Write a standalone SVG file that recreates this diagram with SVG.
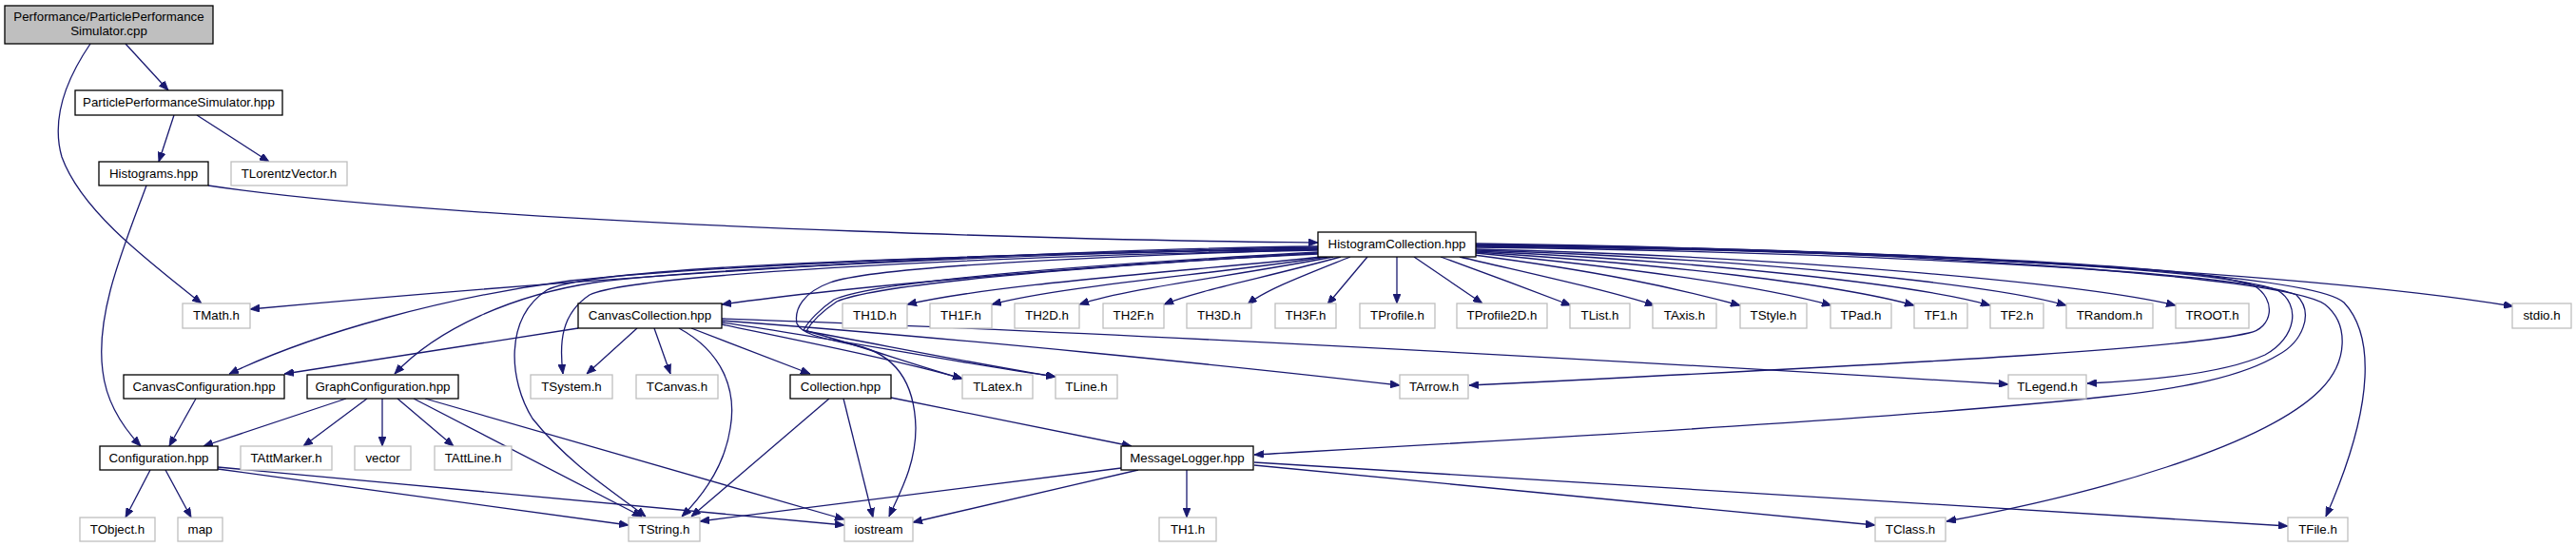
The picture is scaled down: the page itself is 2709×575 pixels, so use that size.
<svg xmlns="http://www.w3.org/2000/svg" width="2709" height="575" viewBox="0 0 2709 575">
<style>
.b{fill:#fff;stroke:#000;stroke-width:1.3}
.g{fill:#fff;stroke:#bfbfbf;stroke-width:1.3}
.r{fill:#bfbfbf;stroke:#000;stroke-width:1.3}
text{font-family:"Liberation Sans",Arial,Helvetica,sans-serif;font-size:13.3px;text-anchor:middle;fill:#000}
.e path{fill:none;stroke:#191970;stroke-width:1.3;marker-end:url(#a)}
</style>
<defs>
<marker id="a" viewBox="0 0 10 8" refX="10" refY="4" markerWidth="10" markerHeight="8" markerUnits="userSpaceOnUse" orient="auto">
<path d="M0,0 L10,4 L0,8 z" fill="#191970" stroke="#191970" stroke-width="0.8"/>
</marker>
</defs>
<rect width="2709" height="575" fill="#fff"/>
<g class="e" id="edges">
<path d="M132,46 L177,95"/>
<path d="M95,46 C65,90 55,130 65,165 C85,220 150,270 212,319"/>
<path d="M183,121 L167,170"/>
<path d="M207,121 L283,170"/>
<path d="M219,195 C350,215 600,232 900,243 S1300,254 1386,255"/>
<path d="M154,195 C130,260 100,330 108,390 C112,425 130,450 148,469"/>
<path d="M1386,259 C1100,262 700,285 263,325"/>
<path d="M1386,260 C1100,265 760,278 600,295 C470,312 330,350 241,393"/>
<path d="M1386,261 C1100,266 740,282 625,297 C540,310 460,345 415,393"/>
<path d="M1386,262 C1000,268 620,280 575,305 C530,335 535,400 560,440 C600,490 650,520 679,543"/>
<path d="M1386,263 C1000,270 660,290 620,310 C590,330 588,360 592,393"/>
<path d="M1386,262 C1150,270 920,280 873,297 C845,307 835,325 838,340 C842,350 860,355 900,363 C940,372 962,400 963,450 C963,490 945,520 935,543"/>
<path d="M1386,265 C1150,278 920,295 877,315 C862,325 850,338 845,347 C900,362 960,383 1012,398"/>
<path d="M1386,266 C1150,280 925,297 880,317 C865,327 853,339 848,348 C940,365 1040,385 1110,396"/>
<path d="M1386,267 C1200,275 900,300 759,320"/>
<path d="M1390,270 C1250,285 1050,298 954,320"/>
<path d="M1396,270 C1280,288 1120,300 1043,320"/>
<path d="M1402,270 C1300,290 1190,302 1135,320"/>
<path d="M1410,270 C1330,292 1260,305 1224,320"/>
<path d="M1420,270 C1370,290 1330,305 1312,320"/>
<path d="M1438,270 L1396,320"/>
<path d="M1469,270 L1469,319"/>
<path d="M1487,270 L1559,319"/>
<path d="M1515,270 C1570,290 1610,305 1652,321"/>
<path d="M1535,270 C1620,290 1690,305 1740,321"/>
<path d="M1550,268 C1680,285 1760,302 1830,321"/>
<path d="M1552,266 C1700,280 1850,300 1926,321"/>
<path d="M1552,265 C1750,278 1930,298 2013,321"/>
<path d="M1552,264 C1800,275 2020,300 2093,321"/>
<path d="M1552,263 C1850,272 2100,300 2173,321"/>
<path d="M1552,262 C1900,270 2200,300 2288,321"/>
<path d="M1552,256 C2000,262 2450,290 2643,322"/>
<path d="M1552,258 C1900,262 2300,275 2370,300 C2395,315 2390,345 2365,350 C2300,365 2100,378 1545,405"/>
<path d="M1552,259 C1950,263 2330,280 2395,305 C2420,320 2415,355 2382,373 C2340,392 2260,400 2195,403"/>
<path d="M1552,260 C1950,265 2350,285 2415,310 C2435,330 2420,360 2396,373 C2360,395 2300,408 2214,417 C2000,440 1600,462 1319,478"/>
<path d="M1552,258 C2000,262 2400,290 2445,320 C2470,340 2470,380 2440,410 C2380,470 2200,520 2047,548"/>
<path d="M1552,257 C2000,262 2430,285 2465,318 C2495,350 2500,420 2446,543"/>
<path d="M608,345 L299,393"/>
<path d="M670,345 L617,393"/>
<path d="M688,345 L705,393"/>
<path d="M727,345 L852,393"/>
<path d="M714,345 C760,370 775,410 768,450 C762,490 740,520 717,543"/>
<path d="M759,341 C850,360 950,380 1012,398"/>
<path d="M759,339 C870,355 1000,380 1110,396"/>
<path d="M759,337 C1000,355 1300,385 1472,405"/>
<path d="M759,335 C1200,350 1800,385 2112,404"/>
<path d="M206,419 L178,469"/>
<path d="M364,419 L214,469"/>
<path d="M386,419 L319,469"/>
<path d="M402,419 L402,469"/>
<path d="M418,419 L477,469"/>
<path d="M435,419 L675,543"/>
<path d="M447,419 L888,546"/>
<path d="M158,494 L132,544"/>
<path d="M174,494 L201,544"/>
<path d="M229,493 L661,552"/>
<path d="M229,491 L888,552"/>
<path d="M872,419 L727,543"/>
<path d="M887,419 L918,544"/>
<path d="M937,418 L1190,469"/>
<path d="M1179,492 L736,548"/>
<path d="M1197,494 L960,549"/>
<path d="M1248,494 L1248,544"/>
<path d="M1319,489 L1972,552"/>
<path d="M1319,486 L2406,553"/>
</g>
<g id="root"><rect class="r" x="5" y="6" width="219" height="40"/><text x="114.5" y="22">Performance/ParticlePerformance</text><text x="114.5" y="37">Simulator.cpp</text></g>
<g id="pps"><rect class="b" x="79" y="95" width="218" height="26"/><text x="188" y="111.5">ParticlePerformanceSimulator.hpp</text></g>
<g id="histograms"><rect class="b" x="104" y="170" width="115" height="25"/><text x="161.5" y="186.5">Histograms.hpp</text></g>
<g id="tlorentz"><rect class="g" x="243" y="170" width="122" height="25"/><text x="304" y="186.5">TLorentzVector.h</text></g>
<g id="hc"><rect class="b" x="1386" y="244" width="166" height="26"/><text x="1469" y="260.5">HistogramCollection.hpp</text></g>
<g id="tmath"><rect class="g" x="192" y="319" width="71" height="26"/><text x="227.5" y="335.5">TMath.h</text></g>
<g id="cc"><rect class="b" x="608" y="319" width="151" height="26"/><text x="683.5" y="335.5">CanvasCollection.hpp</text></g>
<g id="th1d"><rect class="g" x="886" y="319" width="68" height="26"/><text x="920" y="335.5">TH1D.h</text></g>
<g id="th1f"><rect class="g" x="978" y="319" width="65" height="26"/><text x="1010.5" y="335.5">TH1F.h</text></g>
<g id="th2d"><rect class="g" x="1067" y="319" width="68" height="26"/><text x="1101" y="335.5">TH2D.h</text></g>
<g id="th2f"><rect class="g" x="1160" y="319" width="64" height="26"/><text x="1192" y="335.5">TH2F.h</text></g>
<g id="th3d"><rect class="g" x="1248" y="319" width="68" height="26"/><text x="1282" y="335.5">TH3D.h</text></g>
<g id="th3f"><rect class="g" x="1341" y="319" width="64" height="26"/><text x="1373" y="335.5">TH3F.h</text></g>
<g id="tprofile"><rect class="g" x="1430" y="319" width="79" height="26"/><text x="1469.5" y="335.5">TProfile.h</text></g>
<g id="tprofile2d"><rect class="g" x="1532" y="319" width="95" height="26"/><text x="1579.5" y="335.5">TProfile2D.h</text></g>
<g id="tlist"><rect class="g" x="1651" y="319" width="63" height="26"/><text x="1682.5" y="335.5">TList.h</text></g>
<g id="taxis"><rect class="g" x="1738" y="319" width="67" height="26"/><text x="1771.5" y="335.5">TAxis.h</text></g>
<g id="tstyle"><rect class="g" x="1830" y="319" width="70" height="26"/><text x="1865" y="335.5">TStyle.h</text></g>
<g id="tpad"><rect class="g" x="1925" y="319" width="64" height="26"/><text x="1957" y="335.5">TPad.h</text></g>
<g id="tf1"><rect class="g" x="2013" y="319" width="56" height="26"/><text x="2041" y="335.5">TF1.h</text></g>
<g id="tf2"><rect class="g" x="2093" y="319" width="56" height="26"/><text x="2121" y="335.5">TF2.h</text></g>
<g id="trandom"><rect class="g" x="2173" y="319" width="91" height="26"/><text x="2218.5" y="335.5">TRandom.h</text></g>
<g id="troot"><rect class="g" x="2288" y="319" width="77" height="26"/><text x="2326.5" y="335.5">TROOT.h</text></g>
<g id="stdio"><rect class="g" x="2642" y="319" width="62" height="26"/><text x="2673" y="335.5">stdio.h</text></g>
<g id="canvasconf"><rect class="b" x="130" y="394" width="169" height="25"/><text x="214.5" y="410.5">CanvasConfiguration.hpp</text></g>
<g id="graphconf"><rect class="b" x="323" y="394" width="159" height="25"/><text x="402.5" y="410.5">GraphConfiguration.hpp</text></g>
<g id="tsystem"><rect class="g" x="558" y="394" width="86" height="25"/><text x="601" y="410.5">TSystem.h</text></g>
<g id="tcanvas"><rect class="g" x="669" y="394" width="86" height="25"/><text x="712" y="410.5">TCanvas.h</text></g>
<g id="collection"><rect class="b" x="831" y="394" width="106" height="25"/><text x="884" y="410.5">Collection.hpp</text></g>
<g id="tlatex"><rect class="g" x="1012" y="394" width="74" height="25"/><text x="1049" y="410.5">TLatex.h</text></g>
<g id="tline"><rect class="g" x="1110" y="394" width="65" height="25"/><text x="1142.5" y="410.5">TLine.h</text></g>
<g id="tarrow"><rect class="g" x="1472" y="394" width="72" height="25"/><text x="1508" y="410.5">TArrow.h</text></g>
<g id="tlegend"><rect class="g" x="2112" y="394" width="82" height="25"/><text x="2153" y="410.5">TLegend.h</text></g>
<g id="configuration"><rect class="b" x="105" y="469" width="124" height="25"/><text x="167" y="485.5">Configuration.hpp</text></g>
<g id="tattmarker"><rect class="g" x="253" y="469" width="96" height="25"/><text x="301" y="485.5">TAttMarker.h</text></g>
<g id="vector"><rect class="g" x="373" y="469" width="59" height="25"/><text x="402.5" y="485.5">vector</text></g>
<g id="tattline"><rect class="g" x="457" y="469" width="81" height="25"/><text x="497.5" y="485.5">TAttLine.h</text></g>
<g id="messagelogger"><rect class="b" x="1179" y="469" width="139" height="25"/><text x="1248.5" y="485.5">MessageLogger.hpp</text></g>
<g id="tobject"><rect class="g" x="84" y="544" width="79" height="25"/><text x="123.5" y="560.5">TObject.h</text></g>
<g id="map"><rect class="g" x="187" y="544" width="47" height="25"/><text x="210.5" y="560.5">map</text></g>
<g id="tstring"><rect class="g" x="661" y="544" width="75" height="25"/><text x="698.5" y="560.5">TString.h</text></g>
<g id="iostream"><rect class="g" x="888" y="544" width="72" height="25"/><text x="924" y="560.5">iostream</text></g>
<g id="th1"><rect class="g" x="1219" y="544" width="60" height="25"/><text x="1249" y="560.5">TH1.h</text></g>
<g id="tclass"><rect class="g" x="1972" y="544" width="74" height="25"/><text x="2009" y="560.5">TClass.h</text></g>
<g id="tfile"><rect class="g" x="2406" y="544" width="63" height="25"/><text x="2437.5" y="560.5">TFile.h</text></g>
</svg>
